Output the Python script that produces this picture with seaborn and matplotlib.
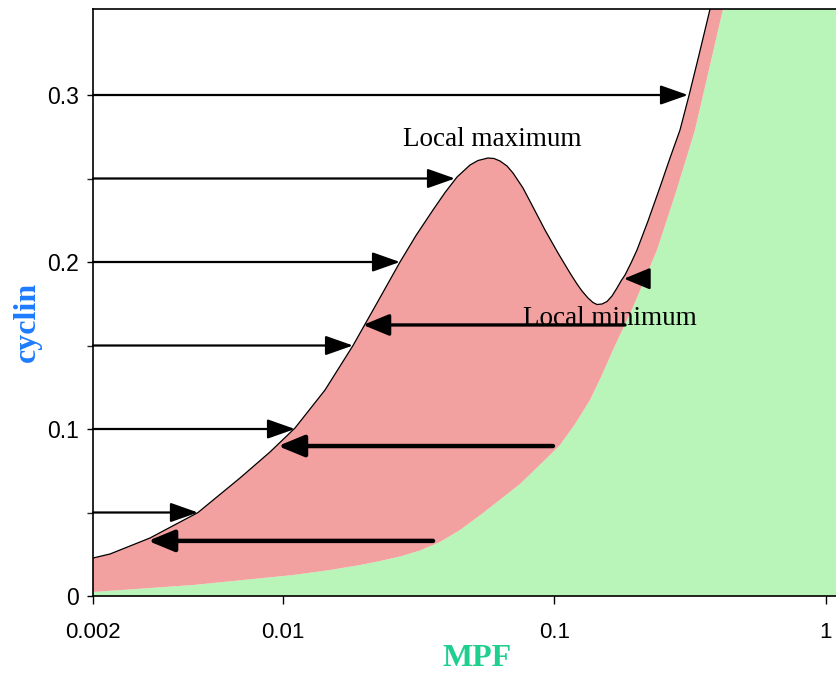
import matplotlib
matplotlib.use("Agg")
import matplotlib.pyplot as plt
import seaborn as sns
from matplotlib.ticker import FixedLocator, NullLocator, FixedFormatter

# ---------------- data ----------------
upper_mpf = [0.002, 0.00231, 0.003242, 0.004873, 0.006957, 0.008973, 0.011093,
             0.014308, 0.018143, 0.022236, 0.027026, 0.03095, 0.035748, 0.0396,
             0.04384, 0.048936, 0.052364, 0.057, 0.05998, 0.06312, 0.06698,
             0.07048, 0.07672, 0.0835, 0.09244, 0.10322, 0.11428, 0.12128,
             0.12654, 0.13314, 0.13888, 0.14368, 0.1499, 0.1564, 0.16316,
             0.17024, 0.17612, 0.1822, 0.19172, 0.2017, 0.22144, 0.24524,
             0.26686, 0.29048, 0.3135, 0.3412, 0.3748]
upper_cyclin = [0.02275, 0.02515, 0.03473, 0.05, 0.07066, 0.08623, 0.1006,
                0.12335, 0.15, 0.17545, 0.2, 0.21587, 0.23114, 0.24162,
                0.2509, 0.25808, 0.26078, 0.26228, 0.26198, 0.26048, 0.25749,
                0.25329, 0.24431, 0.23293, 0.21916, 0.20539, 0.19341, 0.18683,
                0.18263, 0.17844, 0.17575, 0.17455, 0.17485, 0.17635, 0.17964,
                0.18443, 0.18862, 0.19222, 0.1994, 0.20719, 0.22455, 0.24491,
                0.26228, 0.27904, 0.2997, 0.32395, 0.3515]

lower_mpf = [0.002, 0.004671, 0.010906, 0.014928, 0.019257, 0.022808, 0.027026,
             0.032016, 0.03794, 0.04494, 0.05464, 0.07478, 0.09644, 0.10498,
             0.11924, 0.13542, 0.14864, 0.16454, 0.19502, 0.239, 0.2808,
             0.3298, 0.4184]
lower_cyclin = [0.0024, 0.00659, 0.01257, 0.01557, 0.01856, 0.02096, 0.02365,
                0.02725, 0.03234, 0.03952, 0.0497, 0.06707, 0.08443, 0.09042,
                0.10299, 0.11737, 0.13114, 0.1473, 0.17305, 0.20719, 0.24192,
                0.27904, 0.3515]

rise_levels = [0.05, 0.10, 0.15, 0.20, 0.25, 0.30]
rise_tips = [0.00487, 0.01109, 0.01814, 0.02702, 0.04308, 0.3108]

fall_levels = [0.033, 0.0898, 0.1623, 0.19]
fall_starts = [0.03576, 0.0989, 0.1822, 0.2214]
fall_tips = [0.00319, 0.0096, 0.01975, 0.1806]

notes = ["Local maximum", "Local minimum"]
note_mpf = [0.02772, 0.0767]
note_cyclin = [0.2695, 0.1623]

x_ticks = [0.002, 0.01, 0.1, 1]
x_tick_labels = ["0.002", "0.01", "0.1", "1"]
y_ticks = [0, 0.1, 0.2, 0.3]
y_tick_labels = ["0", "0.1", "0.2", "0.3"]
y_minor_ticks = [0.05, 0.15, 0.25]

X_MIN, X_MAX = 0.002, 1.1
Y_MIN, Y_MAX = 0.0, 0.3515

# ---------------- style ----------------
sns.set_style("ticks")
plt.rcParams["font.family"] = ["Liberation Sans", "DejaVu Sans"]
SERIF = ["Liberation Serif", "DejaVu Serif"]

fig = plt.figure(figsize=(8.37, 6.74), dpi=100)
ax = fig.add_axes([93 / 837, 78 / 674, 744 / 837, 587 / 674])
ax.set_xscale("log")
ax.set_xlim(X_MIN, X_MAX)
ax.set_ylim(Y_MIN, Y_MAX)

RED = "#F3A0A0"
GREEN = "#B9F4B9"

# green region: below the lower boundary
gx = lower_mpf + [X_MAX, X_MAX, X_MIN]
gy = lower_cyclin + [Y_MAX, Y_MIN, Y_MIN]
ax.fill(gx, gy, color=GREEN, lw=0, zorder=1)

# red region: between lower boundary and the S-shaped curve
rx = upper_mpf + lower_mpf[::-1]
ry = upper_cyclin + lower_cyclin[::-1]
ax.fill(rx, ry, color=RED, lw=0, zorder=1.2)

sns.lineplot(x=upper_mpf, y=upper_cyclin, sort=False, color="black",
             lw=0.9, ax=ax, zorder=3)

# arrows
for lvl, tip in zip(rise_levels, rise_tips):
    ax.annotate("", xy=(tip, lvl), xytext=(X_MIN, lvl),
                arrowprops=dict(arrowstyle="-|>,head_length=0.85,head_width=0.3",
                                color="black", lw=1.6, shrinkA=0, shrinkB=0,
                                mutation_scale=20), zorder=4)

fall_lw = [3.2, 3.2, 2.4, 1.8]
for lvl, start, tip, lw in zip(fall_levels, fall_starts, fall_tips, fall_lw):
    ax.annotate("", xy=(tip, lvl), xytext=(start, lvl),
                arrowprops=dict(arrowstyle="-|>,head_length=0.8,head_width=0.33",
                                color="black", lw=lw, shrinkA=0, shrinkB=0,
                                mutation_scale=20), zorder=4)

for t, xm, yc in zip(notes, note_mpf, note_cyclin):
    ax.text(xm, yc, t, family=SERIF, fontsize=19.5,
            va="baseline", ha="left", color="black", zorder=5)

# axes / ticks
ax.xaxis.set_major_locator(FixedLocator(x_ticks))
ax.xaxis.set_major_formatter(FixedFormatter(x_tick_labels))
ax.xaxis.set_minor_locator(NullLocator())
ax.yaxis.set_major_locator(FixedLocator(y_ticks))
ax.yaxis.set_major_formatter(FixedFormatter(y_tick_labels))
ax.yaxis.set_minor_locator(FixedLocator(y_minor_ticks))

ax.tick_params(axis="x", which="major", direction="out", length=6, width=1,
               pad=13, labelsize=16, colors="black")
ax.tick_params(axis="y", which="major", direction="out", length=4.5, width=1,
               pad=5.5, labelsize=16.5, colors="black")
ax.tick_params(axis="y", which="minor", direction="out", length=4.5, width=1)

for s in ["left", "bottom", "top"]:
    ax.spines[s].set_linewidth(1.2)
    ax.spines[s].set_color("black")
ax.spines["right"].set_visible(False)

ax.set_xlabel("MPF", family=SERIF, fontsize=23, fontweight="bold", color="#1FCF8F")
ax.xaxis.label.set_va("center")
ax.xaxis.set_label_coords(0.516, -0.1073)

ax.set_ylabel("cyclin", family=SERIF, fontsize=23, fontweight="bold", color="#1E7BFF")
ax.yaxis.label.set_va("center")
ax.yaxis.set_label_coords(-0.0887, 0.4668)

fig.savefig("out.png", dpi=100)
